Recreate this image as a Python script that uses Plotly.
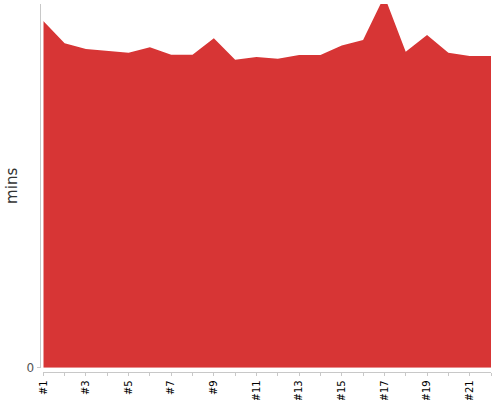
import plotly.graph_objects as go

categories = ["#%d" % i for i in range(1, 23)]
minutes = [34.67, 32.44, 31.87, 31.67, 31.5, 32.04, 31.3, 31.3, 32.94, 30.8, 31.07,
           30.9, 31.27, 31.27, 32.22, 32.77, 37.17, 31.6, 33.27, 31.5, 31.17, 31.17]
y_max = 36.37
tick_labels = categories[::2]

x_idx = list(range(1, len(categories) + 1))

W, H = 500, 400
ml, mr, mt, mb = 35, 9, 4, 22
pw = W - ml - mr
ph = H - mt - mb

fig = go.Figure()
fig.add_trace(go.Scatter(
    x=x_idx, y=minutes, mode="lines", fill="tozeroy",
    line=dict(color="#d73535", width=0, shape="linear"),
    fillcolor="#d73535", hoverinfo="skip", showlegend=False,
))

fig.update_layout(
    width=W, height=H,
    margin=dict(l=ml, r=mr, t=mt, b=mb, autoexpand=False),
    plot_bgcolor="white", paper_bgcolor="white",
    font=dict(family="DejaVu Sans", color="#000"),
    xaxis=dict(
        domain=[(43.3 - ml) / pw, 1],
        range=[1, len(categories)],
        anchor="free", position=(H - mb - 372.3) / ph,
        automargin=False,
        showline=True, linecolor="#c8c8c8", linewidth=1,
        showgrid=False, zeroline=False,
        tickvals=x_idx[::2], ticktext=tick_labels,
        tickangle=-90, ticks="outside", ticklen=3, tickcolor="#c8c8c8",
        tickfont=dict(size=10, color="#000"),
        minor=dict(ticks="outside", ticklen=3, tickcolor="#c8c8c8", dtick=1, tick0=1),
    ),
    yaxis=dict(
        domain=[(H - mb - 367.7) / ph, 1],
        range=[0, y_max],
        anchor="free", position=(39.5 - ml) / pw,
        automargin=False,
        showline=True, linecolor="#c8c8c8", linewidth=1,
        showgrid=False, zeroline=False,
        tickvals=[0], ticktext=["0"],
        ticks="outside", ticklen=3, tickcolor="#c8c8c8",
        tickfont=dict(size=12, color="#555"),
        title=dict(text="mins", font=dict(size=15, color="#333"), standoff=4),
    ),
)

fig.write_html("out.html", config={"displayModeBar": False},
               post_script="document.body.style.margin='0';")
